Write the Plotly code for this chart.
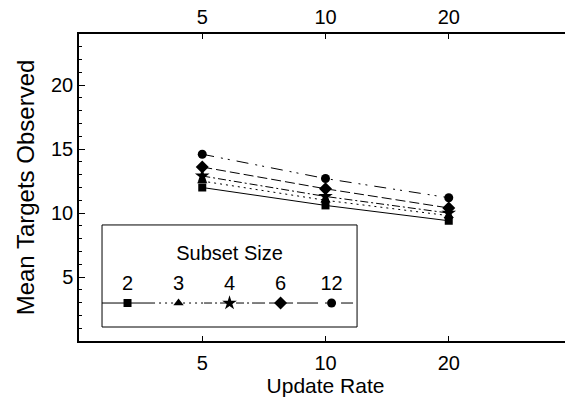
import plotly.graph_objects as go
import math

update_rate = [5, 10, 20]
subset_sizes = ["2", "3", "4", "6", "12"]
mean_2 = [12.0, 10.6, 9.4]
mean_3 = [12.5, 11.0, 9.8]
mean_4 = [12.9, 11.3, 10.0]
mean_6 = [13.6, 11.9, 10.4]
mean_12 = [14.6, 12.7, 11.2]
series = [mean_2, mean_3, mean_4, mean_6, mean_12]
y_ticks = [5, 10, 15, 20]
x_ticks = [5, 10, 20]

symbols = ["square", "triangle-up", "star", "diamond", "circle"]
msizes = [8, 9, 11, 10, 9]
dashes = ["solid", "2px,4px", "8px,3px,2px,3px", "10px,4px", "12px,7px,2px,5px,2px,7px"]

FONT = "Liberation Sans, Arial, Helvetica, sans-serif"
fig = go.Figure()

for name, vals, sym, ms, dash in zip(subset_sizes, series, symbols, msizes, dashes):
    fig.add_trace(go.Scatter(
        x=update_rate, y=vals, mode="lines+markers", name=name,
        line=dict(color="black", width=1, dash=dash),
        marker=dict(symbol=sym, size=ms, color="black"),
        showlegend=False, xaxis="x", yaxis="y"))

# legend samples on an overlay axis inside the legend box
centers = [0.1, 0.3, 0.5, 0.7, 0.9]
for i, (name, sym, ms, dash) in enumerate(zip(subset_sizes, symbols, msizes, dashes)):
    c = centers[i]
    fig.add_trace(go.Scatter(
        x=[c - 0.1, c + 0.1], y=[0.235, 0.235], mode="lines",
        line=dict(color="black", width=1, dash=dash),
        showlegend=False, xaxis="x3", yaxis="y3", hoverinfo="skip"))
    fig.add_trace(go.Scatter(
        x=[c], y=[0.235], mode="markers",
        marker=dict(symbol=sym, size=ms, color="black"),
        showlegend=False, xaxis="x3", yaxis="y3", hoverinfo="skip"))
    fig.add_trace(go.Scatter(
        x=[c], y=[0.41], mode="text", text=[name],
        textfont=dict(size=20, color="black", family=FONT),
        showlegend=False, xaxis="x3", yaxis="y3", hoverinfo="skip"))

fig.add_trace(go.Scatter(x=[0.5], y=[0.705], mode="text", text=["Subset Size"],
                         textfont=dict(size=20, color="black", family=FONT),
                         showlegend=False, xaxis="x3", yaxis="y3", hoverinfo="skip"))

# invisible trace for top axis
fig.add_trace(go.Scatter(x=update_rate, y=mean_2, mode="markers", opacity=0,
                         showlegend=False, xaxis="x2", yaxis="y", hoverinfo="skip"))

xr = [math.log10(2.5), math.log10(40)]
axis_common = dict(showgrid=False, zeroline=False, showline=True, linecolor="black",
                   linewidth=1.5, ticks="inside", tickcolor="black", automargin=False,
                   tickfont=dict(size=20, color="black", family=FONT))

lx0, lx1 = 0.0467, 0.564
ly0, ly1 = 0.0456, 0.378

# page body has an 8px margin in the browser, so the figure is sized to fit
fig.update_layout(
    width=565, height=390,
    margin=dict(l=71, r=1, t=26, b=57),
    plot_bgcolor="white", paper_bgcolor="white",
    font=dict(family=FONT, color="black", size=20),
    xaxis=dict(type="log", range=xr, tickvals=x_ticks, ticktext=[str(v) for v in x_ticks],
               ticklen=5, ticklabelstandoff=3,
               title=dict(text="Update Rate", font=dict(size=21), standoff=0),
               **axis_common),
    xaxis2=dict(type="log", range=xr, tickvals=x_ticks, ticktext=[str(v) for v in x_ticks],
                ticklen=5, overlaying="x", side="top", anchor="y",
                **axis_common),
    yaxis=dict(range=[0, 24], tickvals=y_ticks, ticklen=6, mirror="ticks",
               minor=dict(dtick=1, ticks="inside", ticklen=3, tickcolor="black"),
               title=dict(text="Mean Targets Observed", font=dict(size=24), standoff=10),
               **axis_common),
    xaxis3=dict(domain=[lx0, lx1], range=[0, 1], visible=False, anchor="y3"),
    yaxis3=dict(domain=[ly0, ly1], range=[0, 1], visible=False, anchor="x3"),
    shapes=[dict(type="rect", xref="paper", yref="paper", x0=lx0, x1=lx1, y0=ly0, y1=ly1,
                 line=dict(color="black", width=1), fillcolor="rgba(0,0,0,0)", layer="above")],
)

fig.write_html("out.html")
